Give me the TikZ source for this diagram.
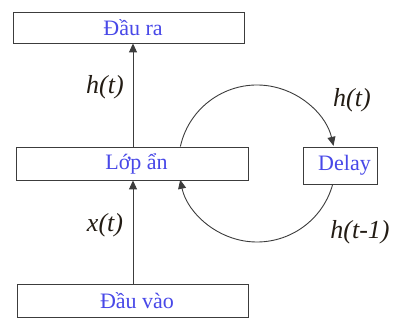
\documentclass[tikz,border=0pt]{standalone}
\usepackage{fontspec}
\setmainfont{Liberation Serif}
\newfontfamily\vnserif{Liberation Serif}
\usetikzlibrary{arrows.meta}
\definecolor{boxblue}{RGB}{72,72,232}
\definecolor{lbldark}{RGB}{35,28,20}
\definecolor{lineg}{RGB}{60,60,60}

\begin{document}
\begin{tikzpicture}[x=1pt,y=1pt,line width=0.9pt,>={Triangle[length=9pt,width=8pt]},
  box/.style={draw=lineg,fill=white,inner sep=0pt,font=\vnserif\fontsize{22}{24}\selectfont,text=boxblue,
    execute at begin node=\hspace*{9pt}},
  lbl/.style={font=\vnserif\fontsize{26}{28}\selectfont\itshape,text=lbldark}]
  \useasboundingbox (0,0) rectangle (396,320);
  \coordinate (C) at (257,156.5);
  % vong hoi quy (ve truoc, cac hop phu len)
  \draw[lineg,->] (C) ++(167.5:78.5) arc[start angle=167.5,end angle=13,radius=78.5];
  \draw[lineg,->] (C) ++(-14.5:78.5) arc[start angle=-14.5,end angle=-168,radius=78.5];
  \node[box,minimum width=231pt,minimum height=31pt] (out) at (128.5,292.5) {Đầu ra};
  \node[box,minimum width=232pt,minimum height=33pt] (hid) at (132,156.5) {Lớp ẩn};
  \node[box,minimum width=231pt,minimum height=33pt] (inp) at (132.5,19.5) {Đầu vào};
  \node[box,minimum width=74pt,minimum height=37pt] (del) at (340,154.5) {Delay};
  \draw[lineg,->] (inp.north -| 133,0) -- (hid.south -| 133,0);
  \draw[lineg,->] (hid.north -| 133,0) -- (out.south -| 133,0);
  \node[lbl] at (105,233) {h(t)};
  \node[lbl] at (105,95) {x(t)};
  \node[lbl] at (352,220) {h(t)};
  \node[lbl] at (360,88) {h(t-1)};
\end{tikzpicture}
\end{document}
